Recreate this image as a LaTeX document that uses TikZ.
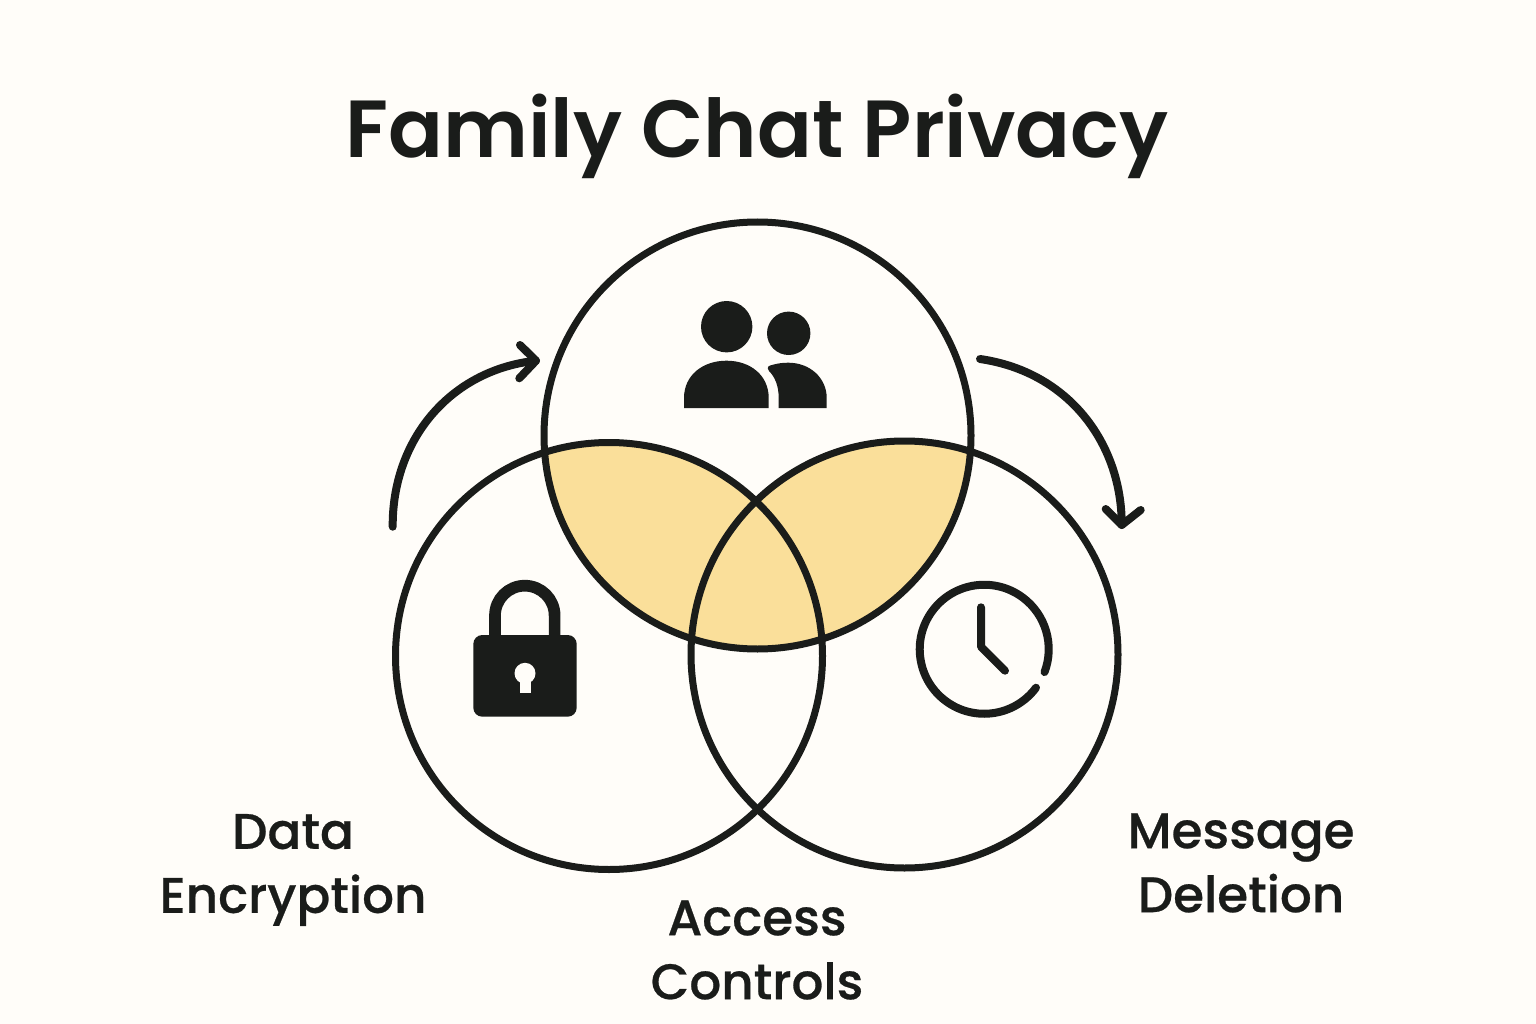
\documentclass[tikz,border=0pt]{standalone}
\usepackage{fontspec}
\setmainfont{Poppins}
\newfontfamily\labfont[FakeBold=0.5]{Poppins Medium}
\newfontfamily\titlefont{Poppins SemiBold}
\definecolor{bgc}{HTML}{FFFDF9}
\definecolor{ink}{HTML}{1A1C1A}
\definecolor{honey}{HTML}{FADF9A}
\tikzset{
  venn/.style={circle,draw=ink,line width=7pt,minimum size=427pt,inner sep=0pt,outer sep=0pt},
  curveline/.style={draw=ink,line width=8pt,line cap=round,line join=round},
  label/.style={text=ink,font=\labfont\fontsize{50}{64}\selectfont,align=center,anchor=center,inner sep=0pt},
  titletext/.style={text=ink,font=\titlefont\fontsize{81}{90}\selectfont,anchor=base,inner sep=0pt}
}
\begin{document}
\begin{tikzpicture}[x=1pt,y=-1pt]
\useasboundingbox (0,0) rectangle (1536,1024);
\fill[bgc] (0,0) rectangle (1536,1024);
% yellow overlap
\begin{scope}
  \clip (757.5,435.5) circle[radius=213.5];
  \fill[honey] (609,656) circle[radius=213.5];
  \fill[honey] (904.5,654.5) circle[radius=213.5];
\end{scope}
% circles
\node[venn] (top) at (757.5,435.5) {};
\node[venn] (left) at (609,656) {};
\node[venn] (right) at (904.5,654.5) {};
% title
\node[titletext] (title) at (757,158) {Family Chat Privacy};
% people icon
\fill[ink] (726.7,326.7) circle[radius=25.7];
\fill[ink] (788.7,333.3) circle[radius=21.7];
\fill[ink] (684,408) -- (684,398) .. controls (684,375) and (703,360.7) .. (726.5,360.7)
  .. controls (750,360.7) and (768.7,375) .. (768.7,398) -- (768.7,408) -- cycle;
\fill[ink] (778.7,408) -- (778.7,398) .. controls (778.7,386) and (775,377) .. (769,371)
  .. controls (766,367) and (769,365.5) .. (772,365)
  .. controls (777,363.5) and (782,362.7) .. (788.3,362.7)
  .. controls (810,362.7) and (826.7,378) .. (826.7,398) -- (826.7,408) -- cycle;
% lock icon
\draw[ink,line width=11.7pt] (495,640) -- (495,615.5) arc[start angle=180,end angle=360,radius=29.8] -- (554.6,640);
\fill[ink,rounded corners=9pt] (473.3,635) rectangle (576.7,716.7);
\fill[bgc] (525,673.3) circle[radius=10.5];
\fill[bgc] (519.7,675) rectangle (530.7,693.3);
% clock icon
\draw[curveline] (1036,687.7) arc[start angle=36.6,end angle=380.7,radius=64.5];
\draw[curveline] (981,607.3) -- (981,646.7) -- (1005,670.7);
% arrows
\coordinate (a1s) at (392.7,526.7);
\coordinate (a1t) at (536,360.7);
\coordinate (a1u) at (520,345);
\coordinate (a1d) at (519.3,378.3);
\draw[curveline] (a1s) .. controls (392,440) and (450,370) .. (a1t);
\draw[curveline] (a1u) -- (a1t) -- (a1d);
\coordinate (a2s) at (980,359);
\coordinate (a2t) at (1121.7,525);
\coordinate (a2l) at (1105.7,509);
\coordinate (a2r) at (1140.7,510);
\draw[curveline] (a2s) .. controls (1070,372) and (1122,445) .. (a2t);
\draw[curveline] (a2l) -- (a2t) -- (a2r);
% labels
\node[label] (data) at (293,870) {Data\\Encryption};
\node[label] (access) at (757,950) {Access\\Controls};
\node[label] (msg) at (1241,863) {Message\\Deletion};
\end{tikzpicture}
\end{document}
